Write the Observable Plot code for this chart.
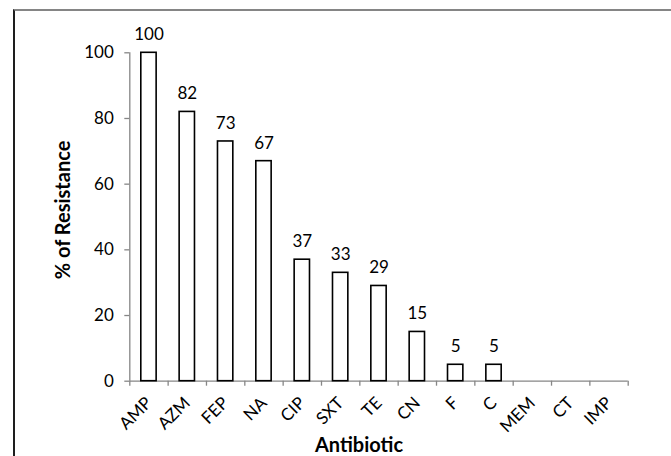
<!DOCTYPE html>
<html>
<head>
<meta charset="utf-8">
<script src="https://cdn.jsdelivr.net/npm/d3@7"></script>
<script src="https://cdn.jsdelivr.net/npm/@observablehq/plot@0.6"></script>
<style>
  html, body { margin: 0; padding: 0; background: #fff; }
  #wrap { position: relative; width: 671px; height: 456px; overflow: hidden; }
  #wrap svg { display: block; position: absolute; left: 0; top: 0; }
  #border { position: absolute; left: 13px; top: 8.5px; width: 700px; height: 500px;
            border-top: 2px solid #858585; border-left: 2px solid #1e1e1e; pointer-events: none; }
</style>
</head>
<body>
<div id="wrap"><div id="border"></div></div>
<script>
const categories = ["AMP","AZM","FEP","NA","CIP","SXT","TE","CN","F","C","MEM","CT","IMP"];
const resistance = [100, 82, 73, 67, 37, 33, 29, 15, 5, 5, 0, 0, 0];
const yTicks = [0, 20, 40, 60, 80, 100];
const yLabel = "% of Resistance";
const xLabel = "Antibiotic";

const data = categories.map((c, i) => ({name: c, idx: i, value: resistance[i]}));
const bars = data.filter(d => d.value > 0);
const boundaries = d3.range(0, categories.length + 1);
const axisColor = "#868686";

const chart = Plot.plot({
  width: 671,
  height: 456,
  marginLeft: 129.3,
  marginRight: 43.3,
  marginTop: 52.3,
  marginBottom: 75.3,
  style: {fontFamily: "Lato, 'Open Sans', sans-serif", fontSize: "17px", color: "#000", background: "transparent"},
  x: {domain: [0, categories.length], axis: null},
  y: {domain: [0, 100], axis: null},
  marks: [
    // axis lines
    Plot.ruleY([0], {x1: 0, x2: categories.length, stroke: axisColor, strokeWidth: 1.3}),
    Plot.ruleX([0], {y1: 0, y2: 100, stroke: axisColor, strokeWidth: 1.3}),
    // y ticks
    Plot.ruleY(yTicks, {x1: 0, x2: 0, insetLeft: -5, stroke: axisColor, strokeWidth: 1.3}),
    // x ticks at category boundaries
    Plot.ruleX(boundaries, {y1: 0, y2: 0, insetBottom: -5, stroke: axisColor, strokeWidth: 1.3}),
    // bars
    Plot.rectY(bars, {x1: d => d.idx + 0.3, x2: d => d.idx + 0.7, y1: 0, y2: "value",
      fill: "white", stroke: "black", strokeWidth: 1.6}),
    // value labels
    Plot.text(bars, {x: d => d.idx + 0.5, y: "value", text: d => String(d.value), dy: -18, fontSize: 17}),
    // y tick labels
    Plot.text(yTicks, {x: 0, y: d => d, text: d => String(d), textAnchor: "end", dx: -16, fontSize: 17}),
    // x tick labels
    Plot.text(data, {x: d => d.idx + 0.5, y: 0, text: "name", rotate: -45, textAnchor: "end",
      dx: 0, dy: 19, fontSize: 17}),
    // axis titles
    Plot.text([yLabel], {frameAnchor: "left", textAnchor: "middle", lineAnchor: "middle", rotate: -90,
      dx: -66, dy: -7, fontSize: 20, fontWeight: "bold"}),
    Plot.text([xLabel], {frameAnchor: "bottom", textAnchor: "middle", lineAnchor: "top",
      dx: -20, dy: 57, fontSize: 20, fontWeight: "bold"})
  ]
});
document.getElementById("wrap").prepend(chart);
</script>
</body>
</html>
